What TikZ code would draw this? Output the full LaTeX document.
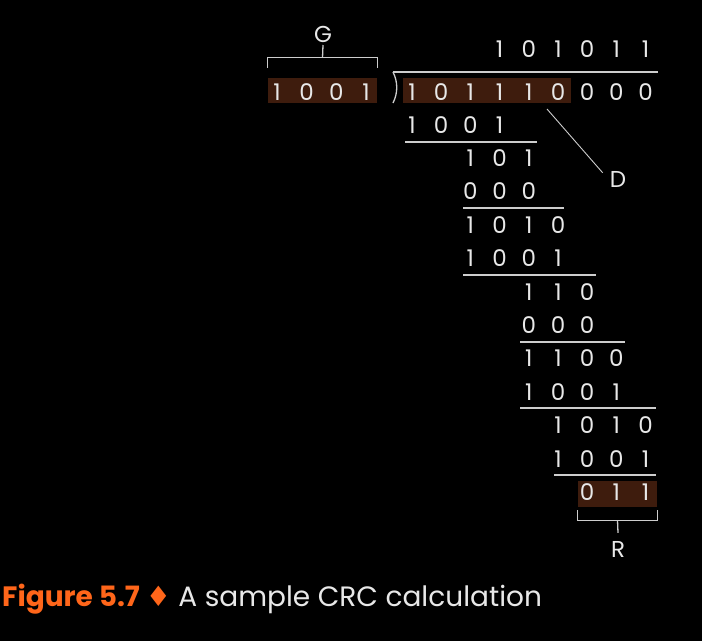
\documentclass[tikz,border=0pt]{standalone}
\usepackage{fontspec}
\setmainfont{Poppins}
\newfontfamily\symbolfont{DejaVu Sans}
\usepackage{tikz}
\usetikzlibrary{positioning}
\definecolor{inkwhite}{RGB}{232,232,232}
\definecolor{rulegrey}{RGB}{205,205,205}
\definecolor{remainderbrown}{RGB}{62,28,13}
\definecolor{captionorange}{RGB}{255,102,26}
\tikzset{
  base/.style={font=\fontsize{23}{23}\selectfont, text=inkwhite, inner sep=0pt},
  bit/.style={base, anchor=base},
  lbl/.style={base, anchor=base},
  hl/.style={rectangle, fill=remainderbrown, inner sep=0pt},
  rule/.style={draw=rulegrey, line width=1.3pt},
  brk/.style={draw=rulegrey, line width=1.3pt},
  pointer/.style={draw=rulegrey, line width=0.9pt},
}

\begin{document}
\begin{tikzpicture}[x=1pt,y=-1pt]
  \fill[black] (0,0) rectangle (702,641);
  \useasboundingbox (0,0) rectangle (702,641);
  % highlighted divisor, dividend part and remainder
  \node[hl,minimum width=109pt,minimum height=25pt] (gbox) at (322.5,90.5) {};
  \node[hl,minimum width=168pt,minimum height=25pt] (dbox) at (487,90.5) {};
  \node[hl,minimum width=79pt,minimum height=26pt]  (rbox) at (617.5,494) {};
  % divisor G
  \foreach \b [count=\i from 0] in {1,0,0,1}
    \node[bit] (v\i) at ({277+29.7*\i},100) {\b};
  % quotient and dividend
  \foreach \b [count=\i from 3] in {1,0,1,0,1,1}
    \node[bit] (q\i) at ({412+29.2*\i},57) {\b};
  \foreach \b [count=\i from 0] in {1,0,1,1,1,0,0,0,0}
    \node[bit] (m\i) at ({412+29.2*\i},100) {\b};
  % subtraction steps
  \foreach \c/\bits [count=\k from 1] in {0/{1,0,0,1},2/{1,0,1},2/{0,0,0},2/{1,0,1,0},2/{1,0,0,1},4/{1,1,0},4/{0,0,0},4/{1,1,0,0},4/{1,0,0,1},5/{1,0,1,0},5/{1,0,0,1},6/{0,1,1}}
    \foreach \b [count=\i from \c] in \bits
      \node[bit] (r\k-\i) at ({412+29.2*\i},{99.6+33.4*\k}) {\b};
  \draw[rule] (405,142) -- (537,142);
  \draw[rule] (463,208) -- (564,208);
  \draw[rule] (463,275) -- (596,275);
  \draw[rule] (520,342) -- (625,342);
  \draw[rule] (520,408) -- (656,408);
  \draw[rule] (554,475) -- (656,475);
  % division sign
  \draw[rule] (393,72) -- (658,72);
  \draw[rule] (393,72) .. controls (398,82) and (398,93) .. (393,103);
  % labels
  \node[lbl] (glbl) at (323,42) {G};
  \node[lbl] (dlbl) at (618,187) {D};
  \node[lbl] (rlbl) at (618,557) {R};
  \draw[brk] ([yshift=10pt]gbox.north west) -- ++(0,-10) -| ([yshift=10pt]gbox.north east);
  \draw[brk] ([yshift=20pt]gbox.north) -- ([yshift=-3pt]glbl.base);
  \draw[brk] ([yshift=-3pt]rbox.south west) -- ++(0,10) -| ([yshift=-3pt]rbox.south east);
  \draw[brk] ([yshift=-13pt]rbox.south) -- ([yshift=8pt]rlbl.north);
  \draw[pointer] ([shift={(-11pt,-9pt)}]m5.base) -- ([shift={(-7pt,-2pt)}]dlbl.north west);
  % caption
  \node[anchor=base west,inner sep=0pt,font=\fontsize{28}{28}\selectfont] (cap) at (2,606)
    {\textcolor{captionorange}{\bfseries Figure 5.7 {\symbolfont ♦}} \textcolor{inkwhite}{A sample CRC calculation}};
\end{tikzpicture}
\end{document}
